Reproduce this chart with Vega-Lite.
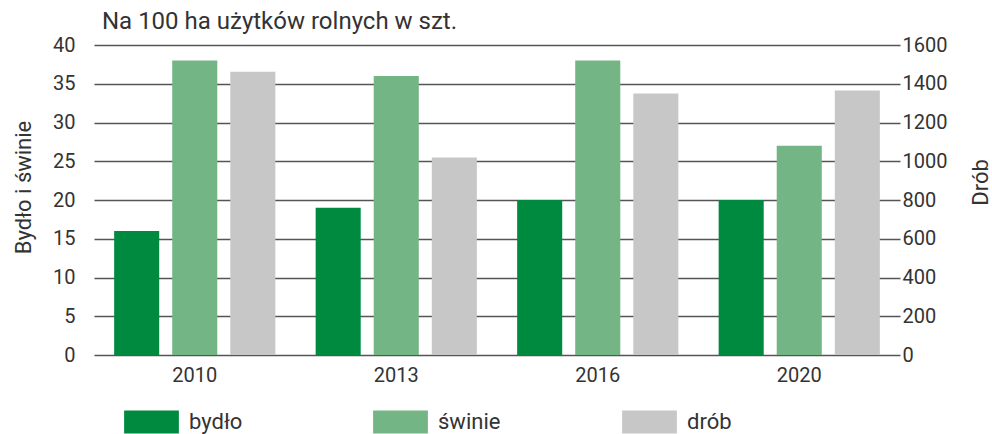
{
  "$schema": "https://vega.github.io/schema/vega-lite/v6.json",
  "width": 811,
  "height": 310,
  "autosize": {"type": "none"},
  "padding": {"left": 82, "top": 45, "right": 99, "bottom": 79},
  "background": "white",
  "config": {
    "font": "Roboto",
    "view": {"stroke": null},
    "axis": {"labelFont": "Roboto", "titleFont": "Roboto", "labelColor": "#333333", "titleColor": "#333333", "labelFontSize": 20, "titleFontSize": 22, "titleFontWeight": "normal"}
  },
  "title": {
    "text": "Na 100 ha użytków rolnych w szt.",
    "anchor": "start",
    "frame": "group",
    "dx": 20,
    "dy": 30,
    "offset": 12,
    "baseline": "alphabetic",
    "fontSize": 24,
    "fontWeight": "normal",
    "color": "#333333",
    "font": "Roboto"
  },
  "data": {
    "values": [
      {"year": "2010", "series": "bydło", "value": 16},
      {"year": "2010", "series": "świnie", "value": 38},
      {"year": "2010", "series": "drób", "value": 1462},
      {"year": "2013", "series": "bydło", "value": 19},
      {"year": "2013", "series": "świnie", "value": 36},
      {"year": "2013", "series": "drób", "value": 1020},
      {"year": "2016", "series": "bydło", "value": 20},
      {"year": "2016", "series": "świnie", "value": 38},
      {"year": "2016", "series": "drób", "value": 1350},
      {"year": "2020", "series": "bydło", "value": 20},
      {"year": "2020", "series": "świnie", "value": 27},
      {"year": "2020", "series": "drób", "value": 1365}
    ]
  },
  "encoding": {
    "x": {
      "field": "year",
      "type": "nominal",
      "scale": {"range": [12, 818], "paddingInner": 0.2, "paddingOuter": 0.1},
      "axis": {"title": null, "labelAngle": 0, "ticks": false, "domain": false, "grid": false, "labelPadding": 10}
    },
    "xOffset": {
      "field": "series",
      "type": "nominal",
      "scale": {"domain": ["bydło", "świnie", "drób"], "paddingInner": 0.224, "paddingOuter": 0}
    },
    "color": {
      "field": "series",
      "type": "nominal",
      "scale": {"domain": ["bydło", "świnie", "drób"], "range": ["#008A40", "#73B584", "#C6C7C6"]},
      "legend": {
        "title": null,
        "orient": "none",
        "legendX": 42,
        "legendY": 349,
        "direction": "horizontal",
        "columns": 3,
        "gridAlign": "all",
        "columnPadding": 121,
        "padding": 0,
        "symbolType": "M-1,-0.42L1,-0.42L1,0.42L-1,0.42Z",
        "symbolSize": 3000,
        "symbolStrokeWidth": 0,
        "symbolOpacity": 1,
        "labelFontSize": 22,
        "labelFont": "Roboto",
        "labelColor": "#333333",
        "labelOffset": 10
      }
    }
  },
  "layer": [
    {
      "transform": [{"filter": "datum.series !== 'drób'"}],
      "mark": {"type": "bar"},
      "encoding": {
        "y": {
          "field": "value",
          "type": "quantitative",
          "scale": {"domain": [0, 40], "nice": false},
          "axis": {
            "orient": "left",
            "title": "Bydło i świnie",
            "values": [0, 5, 10, 15, 20, 25, 30, 35, 40],
            "grid": true,
            "gridColor": "#555555",
            "gridWidth": 1.5,
            "ticks": false,
            "domain": false,
            "labelPadding": 7,
            "titleAngle": -90,
            "titleX": -59,
            "titleY": 142,
            "titleBaseline": "middle",
            "titleAlign": "center"
          }
        }
      }
    },
    {
      "transform": [{"filter": "datum.series === 'drób'"}],
      "mark": {"type": "bar"},
      "encoding": {
        "y": {
          "field": "value",
          "type": "quantitative",
          "scale": {"domain": [0, 1600], "nice": false},
          "axis": {
            "orient": "right",
            "title": "Drób",
            "format": "d",
            "values": [0, 200, 400, 600, 800, 1000, 1200, 1400, 1600],
            "grid": false,
            "ticks": false,
            "domain": false,
            "labelPadding": 9,
            "titleAngle": -90,
            "titleX": 87,
            "titleY": 137,
            "titleBaseline": "middle",
            "titleAlign": "center"
          }
        }
      }
    }
  ],
  "resolve": {"scale": {"y": "independent"}}
}
